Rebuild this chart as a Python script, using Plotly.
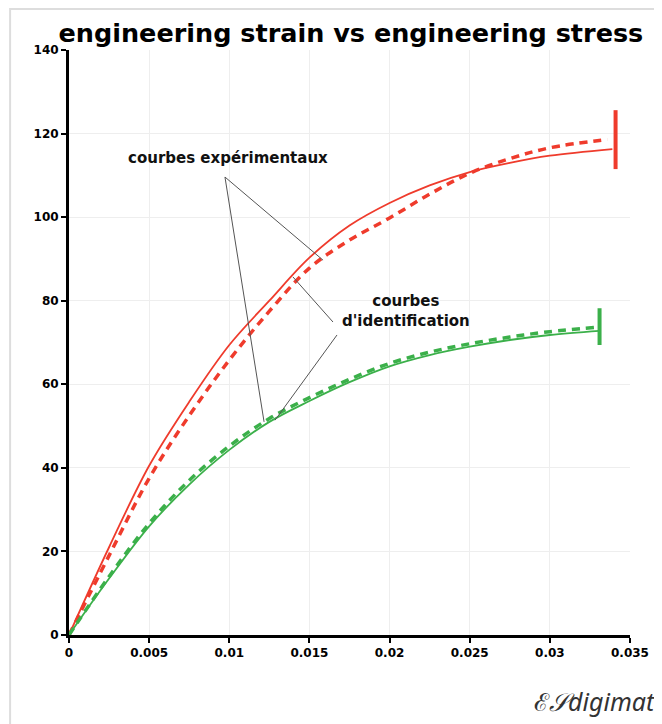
import plotly.graph_objects as go

# strain values (shared sampling)
strain = [0, 0.0025, 0.005, 0.0075, 0.01, 0.0125, 0.015, 0.0175, 0.02, 0.0225, 0.025, 0.0275, 0.03]

# red material
red_exp_strain = strain + [0.0339]
red_exp_stress = [0, 21.0, 40.5, 55.8, 69.4, 80.0, 90.3, 98.0, 103.4, 107.6, 110.8, 113.0, 114.7, 116.3]
red_id_strain = strain + [0.0336]
red_id_stress = [0, 19.0, 37.5, 52.5, 65.8, 77.5, 87.8, 94.5, 99.8, 105.5, 110.5, 114.0, 116.6, 118.6]
red_end_x = [0.0341, 0.0341]
red_end_y = [111.5, 125.6]

# green material
green_exp_strain = strain + [0.0331]
green_exp_stress = [0, 13.5, 26.0, 36.0, 44.3, 51.0, 56.0, 60.5, 64.3, 67.0, 69.0, 70.6, 71.8, 72.8]
green_id_strain = strain + [0.0328]
green_id_stress = [0, 14.0, 26.7, 37.0, 45.2, 51.8, 56.8, 61.2, 65.0, 67.7, 69.7, 71.3, 72.6, 73.6]
green_end_x = [0.0331, 0.0331]
green_end_y = [69.4, 78.2]

x_ticks = [0, 0.005, 0.01, 0.015, 0.02, 0.025, 0.03, 0.035]
y_ticks = [0, 20, 40, 60, 80, 100, 120, 140]

RED = "#ef3b2c"
GREEN = "#3bb04a"

fig = go.Figure()
fig.add_trace(go.Scatter(x=red_exp_strain, y=red_exp_stress, mode="lines",
                         line=dict(color=RED, width=1.8, shape="spline"), hoverinfo="skip"))
fig.add_trace(go.Scatter(x=red_id_strain, y=red_id_stress, mode="lines",
                         line=dict(color=RED, width=3.5, dash="8px,6px", shape="spline"), hoverinfo="skip"))
fig.add_trace(go.Scatter(x=red_end_x, y=red_end_y, mode="lines",
                         line=dict(color=RED, width=4), hoverinfo="skip"))
fig.add_trace(go.Scatter(x=green_exp_strain, y=green_exp_stress, mode="lines",
                         line=dict(color=GREEN, width=1.8, shape="spline"), hoverinfo="skip"))
fig.add_trace(go.Scatter(x=green_id_strain, y=green_id_stress, mode="lines",
                         line=dict(color=GREEN, width=3.5, dash="8px,6px", shape="spline"), hoverinfo="skip"))
fig.add_trace(go.Scatter(x=green_end_x, y=green_end_y, mode="lines",
                         line=dict(color=GREEN, width=4), hoverinfo="skip"))

# leader lines for the labels (data coordinates)
leaders = [
    (0.00973, 109.6, 0.01585, 89.7),
    (0.00973, 109.6, 0.01217, 51.0),
    (0.01647, 74.9, 0.01397, 85.7),
    (0.01672, 71.8, 0.01285, 51.4),
]
for x0, y0, x1, y1 in leaders:
    fig.add_shape(type="line", xref="x", yref="y", x0=x0, y0=y0, x1=x1, y1=y1,
                  line=dict(color="#555555", width=1))

fig.add_annotation(x=0.00992, y=114.1, xref="x", yref="y", text="courbes expérimentaux",
                   showarrow=False, font=dict(family="DejaVu Sans", size=15, color="#111111", weight="bold"))
fig.add_annotation(x=0.02102, y=77.5, xref="x", yref="y", text="courbes<br>d'identification",
                   showarrow=False, font=dict(family="DejaVu Sans", size=15, color="#111111", weight="bold"))

# logo
fig.add_annotation(x=1.05, y=-0.113, xref="paper", yref="paper", xanchor="right", yanchor="middle",
                   text="<i>ℰ𝒮digimat</i>", showarrow=False,
                   font=dict(family="Noto Sans", size=25, color="#333333"))

# outer frame
fig.add_shape(type="rect", xref="paper", yref="paper", x0=-0.105, x1=1.3, y0=-0.3, y1=1.07,
              line=dict(color="#dddddd", width=2))

fig.update_layout(
    width=662, height=724,
    margin=dict(l=61, r=40, t=42, b=97),
    paper_bgcolor="white", plot_bgcolor="white",
    showlegend=False,
    title=dict(text="engineering strain vs engineering stress", x=0.518, xanchor="center",
               y=0.965, yanchor="middle", yref="container",
               font=dict(family="DejaVu Sans", size=25.5, color="#000000", weight="bold")),
)
fig.update_xaxes(range=[0, 0.035], tickvals=x_ticks, ticktext=[f"{v:g}" for v in x_ticks],
                 showgrid=True, gridcolor="#eeeeee", gridwidth=1,
                 showline=True, linecolor="black", linewidth=3,
                 ticks="outside", ticklen=5, tickwidth=2, tickcolor="black",
                 tickfont=dict(family="DejaVu Sans", size=12, color="black", weight="bold"),
                 zeroline=False)
fig.update_yaxes(range=[0, 140], tickvals=y_ticks,
                 showgrid=True, gridcolor="#eeeeee", gridwidth=1,
                 showline=True, linecolor="black", linewidth=3,
                 ticks="outside", ticklen=5, tickwidth=2, tickcolor="black",
                 tickfont=dict(family="DejaVu Sans", size=12, color="black", weight="bold"),
                 zeroline=False)

fig.write_html("out.html")
